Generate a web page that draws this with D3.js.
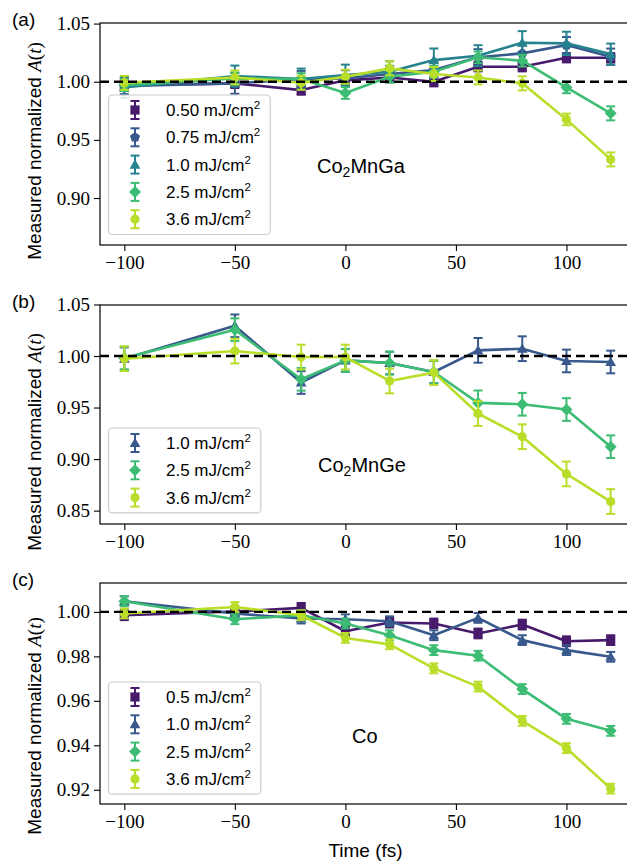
<!DOCTYPE html>
<html>
<head>
<meta charset="utf-8">
<script src="https://cdn.jsdelivr.net/npm/d3@7"></script>
<style>
  html, body { margin: 0; padding: 0; background: #fff; }
  svg { display: block; }
</style>
</head>
<body>
<svg id="chart" width="627" height="865"></svg>
<script>
// ---------------- DATA ----------------
const times = [-100, -50, -20, 0, 20, 40, 60, 80, 100, 120];
const xTicks = [-100, -50, 0, 50, 100];

// Panel (a) Co2MnGa
const aLabels = ["0.50", "0.75", "1.0", "2.5", "3.6"];
const a050 = [0.997, 0.9986, 0.9928, 1.0012, 1.0037, 1.000, 1.0129, 1.0129, 1.0206, 1.0206];
const a050err = [0.004, 0.004, 0.004, 0.004, 0.004, 0.004, 0.004, 0.004, 0.004, 0.004];
const a075 = [0.9963, 0.9986, 1.0023, 1.0029, 1.0066, 1.0100, 1.021, 1.0244, 1.0315, 1.0215];
const a075err = [0.007, 0.009, 0.007, 0.007, 0.007, 0.007, 0.007, 0.007, 0.007, 0.007];
const a100 = [0.9951, 1.0049, 1.0023, 1.0057, 1.0086, 1.0186, 1.0224, 1.0335, 1.033, 1.0238];
const a100err = [0.009, 0.009, 0.009, 0.009, 0.009, 0.010, 0.009, 0.010, 0.010, 0.009];
const a250 = [0.9971, 1.0029, 1.0023, 0.9903, 1.0043, 1.0086, 1.021, 1.0181, 0.9951, 0.9728];
const a250err = [0.005, 0.005, 0.005, 0.005, 0.005, 0.005, 0.005, 0.005, 0.005, 0.006];
const a360 = [0.9991, 1.0037, 0.9991, 1.0043, 1.0115, 1.0066, 1.0037, 0.9986, 0.9676, 0.9332];
const a360err = [0.006, 0.006, 0.006, 0.006, 0.006, 0.006, 0.006, 0.006, 0.005, 0.006];
const aYTicks = [0.90, 0.95, 1.00, 1.05];

// Panel (b) Co2MnGe
const bLabels = ["1.0", "2.5", "3.6"];
const b100 = [0.9974, 1.0293, 0.9743, 0.9958, 0.9932, 0.9845, 1.0055, 1.0071, 0.9952, 0.9942];
const b100err = [0.011, 0.011, 0.011, 0.011, 0.011, 0.011, 0.012, 0.012, 0.011, 0.011];
const b250 = [0.9981, 1.0255, 0.9774, 0.9958, 0.9932, 0.9845, 0.9545, 0.9532, 0.9481, 0.912];
const b250err = [0.011, 0.011, 0.011, 0.011, 0.011, 0.011, 0.012, 0.011, 0.011, 0.011];
const b360 = [0.9974, 1.0048, 0.9990, 0.9990, 0.9758, 0.9839, 0.9442, 0.9217, 0.8856, 0.8588];
const b360err = [0.012, 0.012, 0.012, 0.012, 0.012, 0.012, 0.012, 0.012, 0.012, 0.012];
const bYTicks = [0.85, 0.90, 0.95, 1.00, 1.05];

// Panel (c) Co
const cLabels = ["0.5", "1.0", "2.5", "3.6"];
const c050 = [0.9985, 1.0002, 1.0018, 0.9913, 0.9952, 0.9948, 0.9903, 0.9943, 0.9868, 0.9873];
const c050err = [0.0022, 0.0022, 0.0022, 0.0022, 0.0022, 0.0022, 0.0022, 0.0022, 0.0022, 0.0022];
const c100 = [1.0048, 0.9993, 0.997, 0.9967, 0.9958, 0.9895, 0.9973, 0.9873, 0.9828, 0.9798];
const c100err = [0.0022, 0.0022, 0.0022, 0.0022, 0.0022, 0.0022, 0.0022, 0.0022, 0.0022, 0.0022];
const c250 = [1.0048, 0.9967, 0.9985, 0.9948, 0.9895, 0.9828, 0.9803, 0.9653, 0.9519, 0.9465];
const c250err = [0.0022, 0.0022, 0.0022, 0.0022, 0.0022, 0.0022, 0.0022, 0.0022, 0.0022, 0.0022];
const c360 = [0.9993, 1.0022, 0.9985, 0.9883, 0.9854, 0.9746, 0.9664, 0.951, 0.9387, 0.9205];
const c360err = [0.0022, 0.0022, 0.0022, 0.0022, 0.0022, 0.0022, 0.0022, 0.0022, 0.0022, 0.0022];
const cYTicks = [0.92, 0.94, 0.96, 0.98, 1.00];

// ---------------- STYLE ----------------
const C_PURPLE = "#481a6c";
const C_BLUE = "#38598c";
const C_TEAL = "#26828e";
const C_GREEN = "#3dbc74";
const C_YELLOW = "#b8de29";

const panels = [
  {
    letter: "(a)", name: ["Co", "2", "MnGa"], top: 23, bottom: 245, yDomain: [0.8596, 1.0505], yTicks: aYTicks, fmt: ".2f",
    nameX: 317, nameY: 173, legendTop: 95, ylabelCenter: 151,
    series: [
      {label: aLabels[0], v: a050, e: a050err, color: C_PURPLE, m: "square"},
      {label: aLabels[1], v: a075, e: a075err, color: C_BLUE, m: "pentagon"},
      {label: aLabels[2], v: a100, e: a100err, color: C_TEAL, m: "triangle"},
      {label: aLabels[3], v: a250, e: a250err, color: C_GREEN, m: "diamond"},
      {label: aLabels[4], v: a360, e: a360err, color: C_YELLOW, m: "circle"}
    ]
  },
  {
    letter: "(b)", name: ["Co", "2", "MnGe"], top: 305, bottom: 524, yDomain: [0.837, 1.0495], yTicks: bYTicks, fmt: ".2f",
    nameX: 318, nameY: 472, legendTop: 428, ylabelCenter: 442,
    series: [
      {label: bLabels[0], v: b100, e: b100err, color: C_BLUE, m: "triangle"},
      {label: bLabels[1], v: b250, e: b250err, color: C_GREEN, m: "diamond"},
      {label: bLabels[2], v: b360, e: b360err, color: C_YELLOW, m: "circle"}
    ]
  },
  {
    letter: "(c)", name: ["Co"], top: 583, bottom: 804, yDomain: [0.9136, 1.013], yTicks: cYTicks, fmt: ".2f",
    nameX: 352, nameY: 743, legendTop: 682, ylabelCenter: 726,
    series: [
      {label: cLabels[0], v: c050, e: c050err, color: C_PURPLE, m: "square"},
      {label: cLabels[1], v: c100, e: c100err, color: C_BLUE, m: "triangle"},
      {label: cLabels[2], v: c250, e: c250err, color: C_GREEN, m: "diamond"},
      {label: cLabels[3], v: c360, e: c360err, color: C_YELLOW, m: "circle"}
    ]
  }
];

const LEFT = 100, RIGHT = 635;
const SERIF = "'Liberation Serif', 'DejaVu Serif', serif";
const SANS = "'Liberation Sans', Arial, sans-serif";

function markerPath(type, r) {
  switch (type) {
    case "square": return `M${-r},${-r}H${r}V${r}H${-r}Z`;
    case "diamond": { const d = r * 1.3; return `M0,${-d}L${d},0L0,${d}L${-d},0Z`; }
    case "triangle": { const R = r * 1.35; const pts = [0, 1, 2].map(i => { const a = -Math.PI / 2 + i * 2 * Math.PI / 3; return [R * Math.cos(a), R * Math.sin(a) + R * 0.15]; }); return "M" + pts.map(p => p.join(",")).join("L") + "Z"; }
    case "pentagon": { const R = r * 1.15; const pts = [0, 1, 2, 3, 4].map(i => { const a = -Math.PI / 2 + i * 2 * Math.PI / 5; return [R * Math.cos(a), R * Math.sin(a)]; }); return "M" + pts.map(p => p.join(",")).join("L") + "Z"; }
    default: return `M${r},0A${r},${r} 0 1,1 ${-r},0A${r},${r} 0 1,1 ${r},0Z`;
  }
}

const svg = d3.select("#chart");
svg.append("rect").attr("width", 627).attr("height", 865).attr("fill", "#fff");

const x = d3.scaleLinear().domain([-111, 131]).range([LEFT, RIGHT]);

panels.forEach(p => {
  const y = d3.scaleLinear().domain(p.yDomain).range([p.bottom, p.top]);
  const g = svg.append("g");
  const clipId = "clip" + p.letter.replace(/[()]/g, "");
  svg.append("clipPath").attr("id", clipId).append("rect")
    .attr("x", LEFT).attr("y", p.top).attr("width", RIGHT - LEFT).attr("height", p.bottom - p.top);

  const plot = g.append("g").attr("clip-path", `url(#${clipId})`);

  // series
  p.series.forEach(s => {
    const pts = times.map((t, i) => ({t, v: s.v[i], e: s.e[i]}));
    const sg = plot.append("g");
    // error bars
    pts.forEach(d => {
      const cx = x(d.t), y1 = y(d.v + d.e), y2 = y(d.v - d.e);
      sg.append("line").attr("x1", cx).attr("x2", cx).attr("y1", y1).attr("y2", y2)
        .attr("stroke", s.color).attr("stroke-width", 2);
      [y1, y2].forEach(yy => sg.append("line").attr("x1", cx - 4.5).attr("x2", cx + 4.5).attr("y1", yy).attr("y2", yy)
        .attr("stroke", s.color).attr("stroke-width", 2));
    });
    sg.append("path").datum(pts)
      .attr("d", d3.line().x(d => x(d.t)).y(d => y(d.v)))
      .attr("fill", "none").attr("stroke", s.color).attr("stroke-width", 2.6).attr("stroke-linejoin", "round");
    sg.selectAll("path.mk").data(pts).enter().append("path").attr("class", "mk")
      .attr("transform", d => `translate(${x(d.t)},${y(d.v)})`)
      .attr("d", markerPath(s.m, 4.6)).attr("fill", s.color);
  });

  // dashed reference line
  plot.append("line").attr("x1", LEFT).attr("x2", RIGHT).attr("y1", y(1)).attr("y2", y(1))
    .attr("stroke", "#000").attr("stroke-width", 2.4).attr("stroke-dasharray", "9,5");

  // spines
  g.append("rect").attr("x", LEFT).attr("y", p.top).attr("width", RIGHT - LEFT).attr("height", p.bottom - p.top)
    .attr("fill", "none").attr("stroke", "#000").attr("stroke-width", 1.2);

  // axes
  const yAxis = d3.axisLeft(y).tickValues(p.yTicks).tickFormat(d3.format(p.fmt)).tickSize(6).tickPadding(4);
  const ya = g.append("g").attr("transform", `translate(${LEFT},0)`).call(yAxis);
  const xAxis = d3.axisBottom(x).tickValues(xTicks).tickFormat(d => d < 0 ? "\u2212" + Math.abs(d) : String(d)).tickSize(6).tickPadding(5);
  const xa = g.append("g").attr("transform", `translate(0,${p.bottom})`).call(xAxis);
  [ya, xa].forEach(a => {
    a.select(".domain").remove();
    a.selectAll("line").attr("stroke", "#000").attr("stroke-width", 1.1);
    a.selectAll("text").attr("font-family", SERIF).attr("font-size", 19).attr("fill", "#000");
  });

  // panel letter
  svg.append("text").attr("x", 12).attr("y", p.top + 3).attr("font-family", SANS).attr("font-size", 19)
    .text(p.letter);

  // y label
  const yl = svg.append("text").attr("transform", `translate(41,${p.ylabelCenter}) rotate(-90)`)
    .attr("text-anchor", "middle").attr("font-family", SANS).attr("font-size", 19);
  yl.append("tspan").text("Measured normalized ");
  yl.append("tspan").attr("font-family", SERIF).attr("font-style", "italic").text("A");
  yl.append("tspan").attr("font-family", SERIF).text("(");
  yl.append("tspan").attr("font-family", SERIF).attr("font-style", "italic").text("t");
  yl.append("tspan").attr("font-family", SERIF).text(")");

  // material name
  const nm = svg.append("text").attr("x", p.nameX).attr("y", p.nameY).attr("font-family", SANS).attr("font-size", 20);
  nm.append("tspan").text(p.name[0]);
  if (p.name.length > 1) {
    nm.append("tspan").attr("font-size", 14).attr("dy", 4).text(p.name[1]);
    nm.append("tspan").attr("dy", -4).text(p.name[2]);
  }

  // legend
  const lg = svg.append("g");
  const rowH = 27.3;
  const box = lg.append("rect").attr("x", 108.5).attr("y", p.legendTop).attr("rx", 4).attr("ry", 4)
    .attr("fill", "#fff").attr("fill-opacity", 0.85).attr("stroke", "#cccccc").attr("stroke-width", 1.2);
  let maxW = 0;
  p.series.forEach((s, i) => {
    const cy = p.legendTop + 15 + i * rowH;
    const mx = 135;
    lg.append("line").attr("x1", mx).attr("x2", mx).attr("y1", cy - 9).attr("y2", cy + 9).attr("stroke", s.color).attr("stroke-width", 2);
    [cy - 9, cy + 9].forEach(yy => lg.append("line").attr("x1", mx - 4.5).attr("x2", mx + 4.5).attr("y1", yy).attr("y2", yy).attr("stroke", s.color).attr("stroke-width", 2));
    lg.append("path").attr("transform", `translate(${mx},${cy})`).attr("d", markerPath(s.m, 4.6)).attr("fill", s.color);
    const t = lg.append("text").attr("x", 166).attr("y", cy + 6).attr("font-family", SANS).attr("font-size", 17).attr("fill", "#000");
    t.append("tspan").text(s.label + " mJ/cm");
    t.append("tspan").attr("font-size", 11.5).attr("dy", -7).text("2");
    maxW = Math.max(maxW, t.node().getComputedTextLength());
  });
  box.attr("width", 166 + maxW + 10 - 108.5).attr("height", p.series.length * rowH + 3);
});

// x label
svg.append("text").attr("x", (LEFT + RIGHT) / 2 - 2).attr("y", 857).attr("text-anchor", "middle")
  .attr("font-family", SANS).attr("font-size", 19).text("Time (fs)");
</script>
</body>
</html>
